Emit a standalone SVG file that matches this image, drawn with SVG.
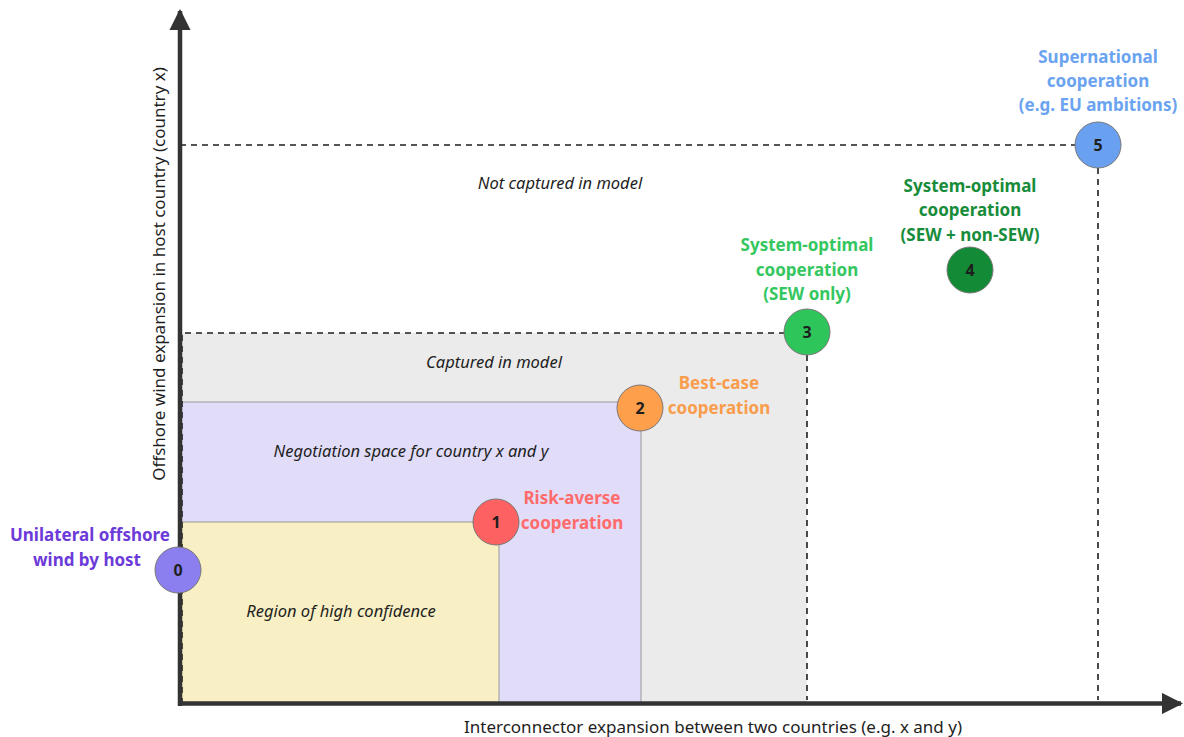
<svg xmlns="http://www.w3.org/2000/svg" width="1184" height="737" viewBox="0 0 1184 737">
<style>
.it{font-family:"Noto Sans","Open Sans",sans-serif;font-style:italic;font-size:16.5px;fill:#1e1e1e;text-anchor:middle}
.lb{font-family:"Noto Sans","Open Sans",sans-serif;font-weight:bold;font-size:17px;text-anchor:middle}
.num{font-family:"Noto Sans","Open Sans",sans-serif;font-weight:bold;font-size:16px;fill:#1e1e1e;text-anchor:middle}
.ax{font-family:"Noto Sans","Open Sans",sans-serif;font-size:17px;fill:#1e1e1e;text-anchor:middle}
.dash{stroke:#1e1e1e;stroke-width:1.6;stroke-dasharray:6 5;fill:none}
.c{stroke:#777;stroke-width:1}
</style>
<defs>
<marker id="ah" viewBox="0 0 10 10" refX="9" refY="5" markerWidth="4.8" markerHeight="4.8" orient="auto" markerUnits="strokeWidth">
<path d="M0,0 L10,5 L0,10 z" fill="#333"/>
</marker>
</defs>
<rect width="1184" height="737" fill="#fff"/>
<g id="regions">
<rect x="180" y="333" width="627" height="371" fill="#ebebeb"/>
<rect x="180" y="402" width="461" height="302" fill="#e1ddf9" stroke="#999" stroke-width="1"/>
<rect x="180" y="522" width="319" height="182" fill="#f8f0c4" stroke="#999" stroke-width="1"/>
</g>
<g id="connectors">
<path class="dash" d="M182,704 V333 H786"/>
<path class="dash" d="M807,355 V700"/>
<path class="dash" d="M180,145 H1076"/>
<path class="dash" d="M1098,168 V700"/>
<line x1="180" y1="706" x2="180" y2="11" stroke="#333" stroke-width="4.5" marker-end="url(#ah)"/>
<line x1="178" y1="703.5" x2="1181" y2="703.5" stroke="#333" stroke-width="4.5" marker-end="url(#ah)"/>
</g>
<g id="region-labels">
<text class="it" x="560" y="189">Not captured in model</text>
<text class="it" x="494" y="368">Captured in model</text>
<text class="it" x="411" y="457">Negotiation space for country x and y</text>
<text class="it" x="341" y="617">Region of high confidence</text>
</g>
<g id="node0">
<circle class="c" cx="178" cy="570" r="23" fill="#8b7fef"/>
<text class="num" x="178" y="576">0</text>
<text class="lb" fill="#6c3ad9" x="90" y="541">Unilateral offshore</text>
<text class="lb" fill="#6c3ad9" x="87" y="566">wind by host</text>
</g>
<g id="node1">
<circle class="c" cx="496" cy="522" r="23" fill="#fe6161"/>
<text class="num" x="496" y="528">1</text>
<text class="lb" fill="#ff6b6b" x="572" y="504">Risk-averse</text>
<text class="lb" fill="#ff6b6b" x="572" y="529">cooperation</text>
</g>
<g id="node2">
<circle class="c" cx="640" cy="408" r="23" fill="#fd9f4b"/>
<text class="num" x="640" y="414">2</text>
<text class="lb" fill="#f99d4c" x="719" y="389">Best-case</text>
<text class="lb" fill="#f99d4c" x="719" y="414">cooperation</text>
</g>
<g id="node3">
<circle class="c" cx="807" cy="332" r="23" fill="#2ec55a"/>
<text class="num" x="807" y="338">3</text>
<text class="lb" fill="#34c760" x="807" y="251">System-optimal</text>
<text class="lb" fill="#34c760" x="807" y="276">cooperation</text>
<text class="lb" fill="#34c760" x="807" y="300">(SEW only)</text>
</g>
<g id="node4">
<circle class="c" cx="970" cy="270" r="23" fill="#138a35"/>
<text class="num" x="970" y="276">4</text>
<text class="lb" fill="#178c3a" x="970" y="192">System-optimal</text>
<text class="lb" fill="#178c3a" x="970" y="216">cooperation</text>
<text class="lb" fill="#178c3a" x="970" y="241">(SEW + non-SEW)</text>
</g>
<g id="node5">
<circle class="c" cx="1098" cy="145" r="23" fill="#6aa0f0"/>
<text class="num" x="1098" y="151">5</text>
<text class="lb" fill="#6aa3f0" x="1098" y="63">Supernational</text>
<text class="lb" fill="#6aa3f0" x="1098" y="87">cooperation</text>
<text class="lb" fill="#6aa3f0" x="1098" y="111">(e.g. EU ambitions)</text>
</g>
<g id="axis-labels">
<text class="ax" x="713" y="733">Interconnector expansion between two countries (e.g. x and y)</text>
<text class="ax" transform="translate(165,274) rotate(-90)">Offshore wind expansion in host country (country x)</text>
</g>
</svg>
